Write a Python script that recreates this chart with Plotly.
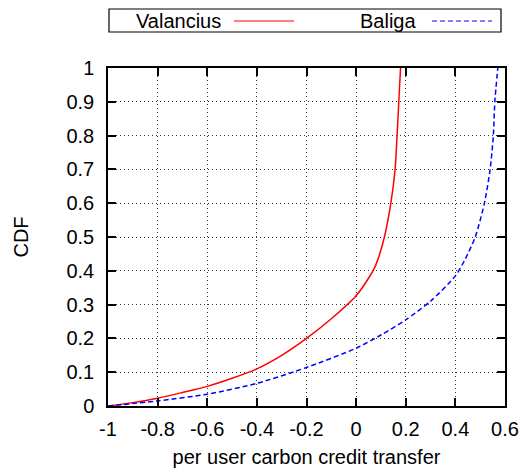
import plotly.graph_objects as go

# ---- data ----
valancius_x = [-1, -0.9, -0.8, -0.7, -0.6, -0.5, -0.4, -0.3, -0.2, -0.1, 0,
               0.05, 0.075, 0.095, 0.114, 0.14, 0.157, 0.165, 0.172, 0.179]
valancius_y = [0, 0.01, 0.023, 0.04, 0.058, 0.082, 0.11, 0.15, 0.2, 0.258, 0.326,
               0.378, 0.41, 0.45, 0.5, 0.6, 0.7, 0.8, 0.9, 1.0]
baliga_x = [-1, -0.8, -0.6, -0.4, -0.2, 0, 0.1, 0.2, 0.3, 0.4,
            0.44, 0.48, 0.517, 0.540, 0.553, 0.559, 0.571]
baliga_y = [0, 0.015, 0.035, 0.067, 0.114, 0.171, 0.21, 0.255, 0.31, 0.385,
            0.435, 0.5, 0.6, 0.7, 0.8, 0.9, 1.0]

x_ticks = [-1, -0.8, -0.6, -0.4, -0.2, 0, 0.2, 0.4, 0.6]
x_labels = ["-1", "-0.8", "-0.6", "-0.4", "-0.2", "0", "0.2", "0.4", "0.6"]
y_ticks = [0, 0.1, 0.2, 0.3, 0.4, 0.5, 0.6, 0.7, 0.8, 0.9, 1]
y_labels = ["0", "0.1", "0.2", "0.3", "0.4", "0.5", "0.6", "0.7", "0.8", "0.9", "1"]

series_names = ["Valancius", "Baliga"]
series_colors = ["#ff0000", "#0000ff"]

W, H = 522, 470
L, R, T, B = 108, 505, 68, 406
FONT = "Liberation Sans, Arial, sans-serif"
FS = 20


def px(xp):
    return (xp - L) / (R - L)


def py(yp):
    return (B - yp) / (B - T)


fig = go.Figure()
fig.add_trace(go.Scatter(x=valancius_x, y=valancius_y, mode="lines", name=series_names[0],
                         line=dict(color=series_colors[0], width=1.5, shape="spline", smoothing=0.7)))
fig.add_trace(go.Scatter(x=baliga_x, y=baliga_y, mode="lines", name=series_names[1],
                         line=dict(color=series_colors[1], width=1.5, dash="5px,3px",
                                   shape="spline", smoothing=0.7)))

axis_common = dict(
    showline=True, linecolor="black", linewidth=1.5, mirror="ticks",
    ticks="inside", ticklen=8, tickwidth=1.5, tickcolor="black",
    showgrid=True, gridcolor="#333333", gridwidth=1, griddash="1px,3px",
    zeroline=False, tickfont=dict(family=FONT, size=FS, color="black"),
)

fig.update_xaxes(range=[-1, 0.6], tickvals=x_ticks, ticktext=x_labels, ticklabelstandoff=4,
                 title=dict(text="per user carbon credit transfer",
                            font=dict(family=FONT, size=FS, color="black"), standoff=11),
                 **axis_common)
fig.update_yaxes(range=[0, 1], tickvals=y_ticks, ticktext=y_labels, ticklabelstandoff=8,
                 title=dict(text="CDF", font=dict(family=FONT, size=FS, color="black"), standoff=32),
                 **axis_common)

# custom gnuplot-style legend (text then sample)
shapes = [dict(type="rect", xref="paper", yref="paper",
               x0=px(109), x1=px(501), y0=py(32), y1=py(9),
               line=dict(color="black", width=1.2), fillcolor="white", layer="above")]
shapes.append(dict(type="line", xref="paper", yref="paper", x0=px(234), x1=px(294),
                   y0=py(21), y1=py(21), line=dict(color=series_colors[0], width=1.2)))
shapes.append(dict(type="line", xref="paper", yref="paper", x0=px(432), x1=px(492),
                   y0=py(21), y1=py(21), line=dict(color=series_colors[1], width=1.2, dash="5px,3px")))
annotations = [
    dict(text=series_names[0], xref="paper", yref="paper", x=px(223), y=py(21),
         xanchor="right", yanchor="middle", showarrow=False,
         font=dict(family=FONT, size=FS, color="black")),
    dict(text=series_names[1], xref="paper", yref="paper", x=px(418), y=py(21),
         xanchor="right", yanchor="middle", showarrow=False,
         font=dict(family=FONT, size=FS, color="black")),
]

fig.update_layout(
    width=W, height=H,
    margin=dict(l=L, r=W - R, t=T, b=H - B, pad=0, autoexpand=False),
    paper_bgcolor="white", plot_bgcolor="white",
    showlegend=False, shapes=shapes, annotations=annotations,
    font=dict(family=FONT, size=FS, color="black"),
)

fig.write_html("out.html", config={"displayModeBar": False},
               post_script="document.body.style.margin='0';document.body.style.overflow='hidden';")
